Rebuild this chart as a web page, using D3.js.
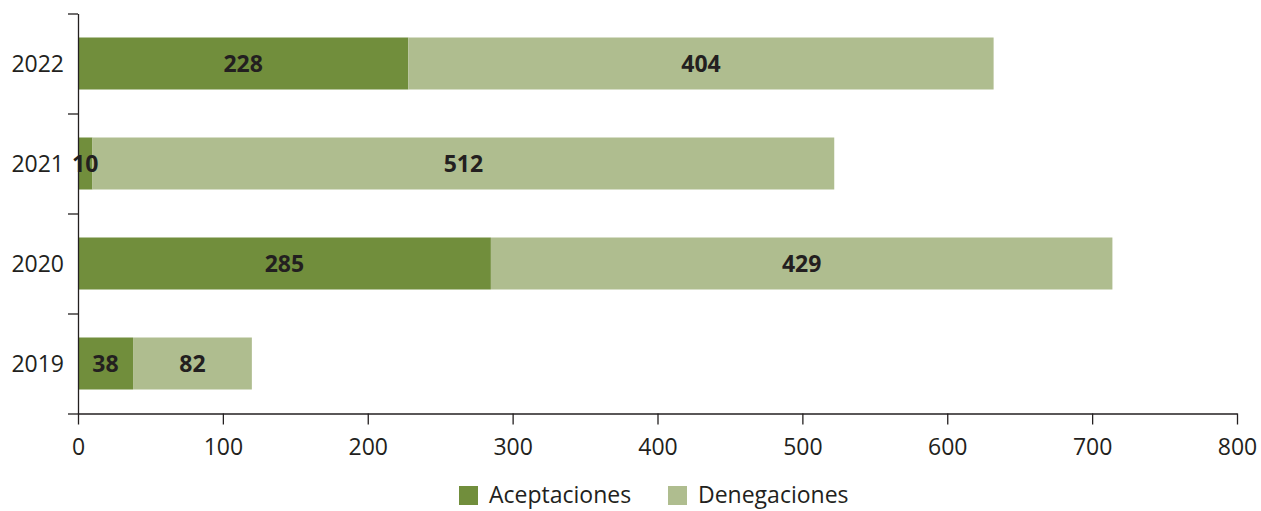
<!DOCTYPE html>
<html lang="es">
<head>
  <meta charset="utf-8">
  <title>Aceptaciones y denegaciones</title>
  <script src="https://cdnjs.cloudflare.com/ajax/libs/d3/7.8.5/d3.min.js"></script>
  <style>
  body { margin: 0; background: #fff; }
  svg { display: block; font-family: 'Open Sans', sans-serif; }
  .axis path, .axis line { stroke: #231f20; stroke-width: 1.3; }
  .axis text { font-family: 'Open Sans', sans-serif; font-size: 23px; fill: #231f20; }
  .lbl { font-size: 23px; font-weight: 700; fill: #231f20; }
  .legend text { font-size: 23px; fill: #231f20; }
  </style>
</head>
<body>
<svg id="chart"></svg>
<script>
var years = ["2022", "2021", "2020", "2019"];
var aceptaciones = [228, 10, 285, 38];
var denegaciones = [404, 512, 429, 82];
var seriesNames = ["Aceptaciones", "Denegaciones"];
var colors = ["#718e3c", "#afbd8f"];
var xTicks = [0, 100, 200, 300, 400, 500, 600, 700, 800];

var w = 1261, h = 511;
var mLeft = 78, mRight = 1237, mTop = 13.5, mBottom = 413.5;

var svg = d3.select("#chart").attr("width", w).attr("height", h);

var x = d3.scaleLinear().domain([0, 800]).range([mLeft, mRight]);
var y = d3.scaleBand().domain(years).range([mTop, mBottom]).paddingInner(0.48).paddingOuter(0.24);
// boundaries between categories, for the tick marks
var yb = d3.scaleLinear().domain([0, years.length]).range([mTop, mBottom]);

var rows = years.map(function(d, i) {
  return { year: d, vals: [aceptaciones[i], denegaciones[i]] };
});

var g = svg.append("g");
rows.forEach(function(r) {
  var x0 = 0;
  r.vals.forEach(function(v, j) {
    g.append("rect")
      .attr("x", x(x0))
      .attr("y", y(r.year))
      .attr("width", x(x0 + v) - x(x0))
      .attr("height", y.bandwidth())
      .attr("fill", colors[j]);
    x0 += v;
  });
});
rows.forEach(function(r) {
  var x0 = 0;
  r.vals.forEach(function(v) {
    g.append("text")
      .attr("class", "lbl")
      .attr("x", (x(x0) + x(x0 + v)) / 2)
      .attr("y", y(r.year) + y.bandwidth() / 2)
      .attr("dy", "0.36em")
      .attr("text-anchor", "middle")
      .text(v);
    x0 += v;
  });
});

// y axis: ticks on category boundaries
svg.append("g")
  .attr("class", "axis")
  .attr("transform", "translate(" + mLeft + ",0)")
  .call(d3.axisLeft(yb).tickValues(d3.range(years.length + 1)).tickFormat("").tickSize(10).tickSizeOuter(0));

svg.append("g")
  .attr("class", "axis")
  .selectAll("text")
  .data(years)
  .enter()
  .append("text")
  .attr("x", mLeft - 14)
  .attr("y", function(d) { return y(d) + y.bandwidth() / 2; })
  .attr("dy", "0.36em")
  .attr("text-anchor", "end")
  .text(function(d) { return d; });

svg.append("g")
  .attr("class", "axis")
  .attr("transform", "translate(0," + mBottom + ")")
  .call(d3.axisBottom(x).tickValues(xTicks).tickSize(11).tickSizeOuter(0).tickPadding(14));

// legend
var legend = svg.append("g").attr("class", "legend");
var lx = [459, 668];
seriesNames.forEach(function(s, i) {
  legend.append("rect")
    .attr("x", lx[i]).attr("y", 486)
    .attr("width", 19).attr("height", 19)
    .attr("fill", colors[i]);
  legend.append("text")
    .attr("x", lx[i] + 30).attr("y", 503)
    .text(s);
});
</script>
</body>
</html>
